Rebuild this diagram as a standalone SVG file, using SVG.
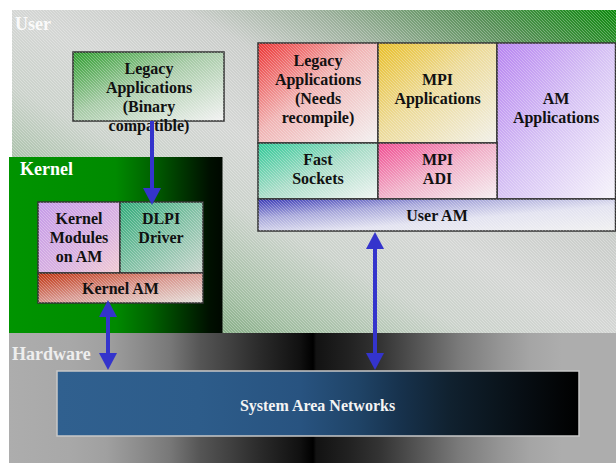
<svg xmlns="http://www.w3.org/2000/svg" width="616" height="464" viewBox="0 0 616 464">
  <defs>
    <style>
      .box { stroke: #333; stroke-width: 1.5; }
      .tex { fill: url(#hatch); stroke: none; }
      .lbl { font-family: "Liberation Serif", "Times New Roman", serif; font-weight: bold; font-size: 16px; fill: #111; text-anchor: middle; }
      .zone { font-family: "Liberation Serif", "Times New Roman", serif; font-weight: bold; font-size: 18px; fill: #fff; }
      .inv { fill: #f4f4f4; }
      .dim { fill: #eee; }
      .wire { stroke: #3434cc; stroke-width: 4; fill: none; }
    </style>
    <!-- fine diagonal texture laid over the layered areas -->
    <pattern id="hatch" width="3" height="3" patternUnits="userSpaceOnUse">
      <path d="M-1,-1 L4,4" stroke="#fff" stroke-opacity="0.32" stroke-width="0.9"/>
    </pattern>
    <linearGradient id="gUser" x1="1" y1="0" x2="0" y2="1">
      <stop offset="0" stop-color="#0c8a0c"/>
      <stop offset="0.13" stop-color="#5a915a"/>
      <stop offset="0.25" stop-color="#9cb09c"/>
      <stop offset="0.36" stop-color="#cacdca"/>
      <stop offset="0.5" stop-color="#d4d6d4"/>
      <stop offset="0.62" stop-color="#cbd2cb"/>
      <stop offset="0.76" stop-color="#a2bea2"/>
      <stop offset="0.86" stop-color="#7aa67a"/>
      <stop offset="1" stop-color="#3d8d3d"/>
    </linearGradient>
    <linearGradient id="gKernel" gradientUnits="userSpaceOnUse" x1="9" y1="0" x2="222" y2="0">
      <stop offset="0" stop-color="#009400"/>
      <stop offset="0.5" stop-color="#008a00"/>
      <stop offset="0.66" stop-color="#006400"/>
      <stop offset="0.82" stop-color="#003400"/>
      <stop offset="0.94" stop-color="#001000"/>
      <stop offset="1" stop-color="#000800"/>
    </linearGradient>
    <linearGradient id="gHw" gradientUnits="userSpaceOnUse" x1="9" y1="0" x2="616" y2="0">
      <stop offset="0" stop-color="#adadad"/>
      <stop offset="0.1" stop-color="#a8a8a8"/>
      <stop offset="0.16" stop-color="#a0a0a0"/>
      <stop offset="0.215" stop-color="#8c8c8c"/>
      <stop offset="0.265" stop-color="#787878"/>
      <stop offset="0.315" stop-color="#555"/>
      <stop offset="0.365" stop-color="#404040"/>
      <stop offset="0.414" stop-color="#2a2a2a"/>
      <stop offset="0.48" stop-color="#101010"/>
      <stop offset="0.501" stop-color="#000"/>
      <stop offset="0.506" stop-color="#121212"/>
      <stop offset="0.562" stop-color="#222"/>
      <stop offset="0.61" stop-color="#333"/>
      <stop offset="0.644" stop-color="#454545"/>
      <stop offset="0.694" stop-color="#606060"/>
      <stop offset="0.743" stop-color="#7b7b7b"/>
      <stop offset="0.809" stop-color="#959595"/>
      <stop offset="0.858" stop-color="#a5a5a5"/>
      <stop offset="0.91" stop-color="#adadad"/>
      <stop offset="1" stop-color="#adadad"/>
    </linearGradient>
    <linearGradient id="gSan" gradientUnits="userSpaceOnUse" x1="57" y1="0" x2="579" y2="0">
      <stop offset="0" stop-color="#30608f"/>
      <stop offset="0.274" stop-color="#2d5c8a"/>
      <stop offset="0.466" stop-color="#285380"/>
      <stop offset="0.58" stop-color="#1f4366"/>
      <stop offset="0.657" stop-color="#17324d"/>
      <stop offset="0.753" stop-color="#10212f"/>
      <stop offset="0.849" stop-color="#0a141c"/>
      <stop offset="0.96" stop-color="#030507"/>
      <stop offset="1" stop-color="#000"/>
    </linearGradient>
    <linearGradient id="gBin" x1="0" y1="0" x2="1" y2="1">
      <stop offset="0" stop-color="#2e9e2e"/>
      <stop offset="0.45" stop-color="#a6caa6"/>
      <stop offset="1" stop-color="#f2f2f2"/>
    </linearGradient>
    <linearGradient id="gRecomp" x1="0" y1="0" x2="1" y2="1">
      <stop offset="0" stop-color="#ec3232"/>
      <stop offset="0.45" stop-color="#f0b4b4"/>
      <stop offset="1" stop-color="#f2f0f0"/>
    </linearGradient>
    <linearGradient id="gMpiApp" x1="0" y1="0" x2="1" y2="1">
      <stop offset="0" stop-color="#e8be26"/>
      <stop offset="0.45" stop-color="#ecda98"/>
      <stop offset="1" stop-color="#f0efe8"/>
    </linearGradient>
    <linearGradient id="gAmApp" x1="0" y1="0" x2="1" y2="1">
      <stop offset="0" stop-color="#b682f0"/>
      <stop offset="0.5" stop-color="#d6c2f4"/>
      <stop offset="1" stop-color="#f6f4fa"/>
    </linearGradient>
    <linearGradient id="gFast" x1="0" y1="0" x2="1" y2="1">
      <stop offset="0" stop-color="#2ec896"/>
      <stop offset="0.5" stop-color="#aadcc8"/>
      <stop offset="1" stop-color="#f0f4f2"/>
    </linearGradient>
    <linearGradient id="gAdi" x1="0" y1="0" x2="1" y2="1">
      <stop offset="0" stop-color="#f04a90"/>
      <stop offset="0.5" stop-color="#f0b0c8"/>
      <stop offset="1" stop-color="#f4eef0"/>
    </linearGradient>
    <linearGradient id="gUserAm" x1="0" y1="0" x2="1" y2="1">
      <stop offset="0" stop-color="#3838b6"/>
      <stop offset="0.3" stop-color="#a6a6da"/>
      <stop offset="0.6" stop-color="#e2e2f0"/>
      <stop offset="1" stop-color="#f0f0f0"/>
    </linearGradient>
    <linearGradient id="gKmod" x1="0" y1="0" x2="1" y2="1">
      <stop offset="0" stop-color="#c49ae8"/>
      <stop offset="0.6" stop-color="#d8b0e0"/>
      <stop offset="1" stop-color="#f0c8d0"/>
    </linearGradient>
    <linearGradient id="gDlpi" x1="0" y1="0" x2="1" y2="1">
      <stop offset="0" stop-color="#2eaa78"/>
      <stop offset="0.5" stop-color="#80c0a4"/>
      <stop offset="1" stop-color="#c8d4cc"/>
    </linearGradient>
    <linearGradient id="gKam" x1="0" y1="0" x2="1" y2="1">
      <stop offset="0" stop-color="#c0300c"/>
      <stop offset="0.5" stop-color="#d89890"/>
      <stop offset="1" stop-color="#e4e0dc"/>
    </linearGradient>
    <marker id="head" viewBox="0 0 17 18" refX="0" refY="9" markerWidth="17" markerHeight="18" markerUnits="userSpaceOnUse" orient="auto-start-reverse">
      <path d="M0,0 L17,9 L0,18 Z" fill="#3434cc"/>
    </marker>
  </defs>

  <!-- layer bands -->
  <g id="user-space">
    <rect x="12" y="10" width="604" height="323" fill="url(#gUser)"/>
    <rect x="12" y="10" width="604" height="323" class="tex"/>
    <text x="15" y="30" class="zone" fill-opacity="0.9">User</text>
  </g>
  <g id="kernel-space">
    <rect x="9" y="157" width="213.5" height="176" fill="url(#gKernel)"/>
    <text x="20" y="175" class="zone">Kernel</text>
  </g>
  <g id="hardware">
    <rect x="9" y="333" width="607" height="130" fill="url(#gHw)"/>
    <text x="12" y="360" class="zone dim">Hardware</text>
  </g>

  <!-- user-level components -->
  <g id="legacy-binary">
    <rect x="73" y="52" width="151" height="69" class="box" fill="url(#gBin)"/>
    <rect x="73" y="52" width="151" height="69" class="tex"/>
    <text class="lbl"><tspan x="149" y="74">Legacy</tspan><tspan x="149" y="93">Applications</tspan><tspan x="149" y="112">(Binary</tspan><tspan x="149" y="131">compatible)</tspan></text>
  </g>
  <g id="legacy-recompile">
    <rect x="258" y="43" width="120" height="100" class="box" fill="url(#gRecomp)"/>
    <rect x="258" y="43" width="120" height="100" class="tex"/>
    <text class="lbl"><tspan x="318" y="65.5">Legacy</tspan><tspan x="318" y="84.5">Applications</tspan><tspan x="318" y="103.5">(Needs</tspan><tspan x="318" y="122.5">recompile)</tspan></text>
  </g>
  <g id="mpi-apps">
    <rect x="378" y="43" width="119" height="100" class="box" fill="url(#gMpiApp)"/>
    <rect x="378" y="43" width="119" height="100" class="tex"/>
    <text class="lbl"><tspan x="437.5" y="84.5">MPI</tspan><tspan x="437.5" y="103.5">Applications</tspan></text>
  </g>
  <g id="am-apps">
    <rect x="497" y="43" width="118.5" height="156" class="box" fill="url(#gAmApp)"/>
    <rect x="497" y="43" width="118.5" height="156" class="tex"/>
    <text class="lbl"><tspan x="556" y="103.5">AM</tspan><tspan x="556" y="122.5">Applications</tspan></text>
  </g>
  <g id="fast-sockets">
    <rect x="258" y="143" width="120" height="56" class="box" fill="url(#gFast)"/>
    <rect x="258" y="143" width="120" height="56" class="tex"/>
    <text class="lbl"><tspan x="318" y="164.5">Fast</tspan><tspan x="318" y="183.5">Sockets</tspan></text>
  </g>
  <g id="mpi-adi">
    <rect x="378" y="143" width="119" height="56" class="box" fill="url(#gAdi)"/>
    <rect x="378" y="143" width="119" height="56" class="tex"/>
    <text class="lbl"><tspan x="437.5" y="164.5">MPI</tspan><tspan x="437.5" y="183.5">ADI</tspan></text>
  </g>
  <g id="user-am">
    <rect x="258" y="199" width="357.5" height="32" class="box" fill="url(#gUserAm)"/>
    <rect x="258" y="199" width="357.5" height="32" class="tex"/>
    <text x="437" y="220.5" class="lbl">User AM</text>
  </g>

  <!-- kernel-level components -->
  <g id="kernel-modules">
    <rect x="38" y="202" width="82" height="71" class="box" fill="url(#gKmod)"/>
    <rect x="38" y="202" width="82" height="71" class="tex"/>
    <text class="lbl"><tspan x="79" y="224">Kernel</tspan><tspan x="79" y="243">Modules</tspan><tspan x="79" y="262">on AM</tspan></text>
  </g>
  <g id="dlpi-driver">
    <rect x="120" y="202" width="83" height="71" class="box" fill="url(#gDlpi)"/>
    <rect x="120" y="202" width="83" height="71" class="tex"/>
    <text class="lbl"><tspan x="161" y="223.5">DLPI</tspan><tspan x="161" y="242.5">Driver</tspan></text>
  </g>
  <g id="kernel-am">
    <rect x="38" y="273" width="165" height="30" class="box" fill="url(#gKam)"/>
    <rect x="38" y="273" width="165" height="30" class="tex"/>
    <text x="120.5" y="293.5" class="lbl">Kernel AM</text>
  </g>

  <!-- network hardware -->
  <g id="san">
    <rect x="57" y="371" width="522" height="65" fill="url(#gSan)" stroke="#c8c8c8" stroke-width="1.5"/>
    <text x="317.5" y="411" class="lbl inv">System Area Networks</text>
  </g>

  <!-- connectors -->
  <g id="connectors">
    <line x1="152" y1="121" x2="152" y2="188" class="wire" marker-end="url(#head)"/>
    <line x1="108" y1="317" x2="108" y2="353" class="wire" marker-start="url(#head)" marker-end="url(#head)"/>
    <line x1="375" y1="249" x2="375" y2="353" class="wire" marker-start="url(#head)" marker-end="url(#head)"/>
  </g>
</svg>
